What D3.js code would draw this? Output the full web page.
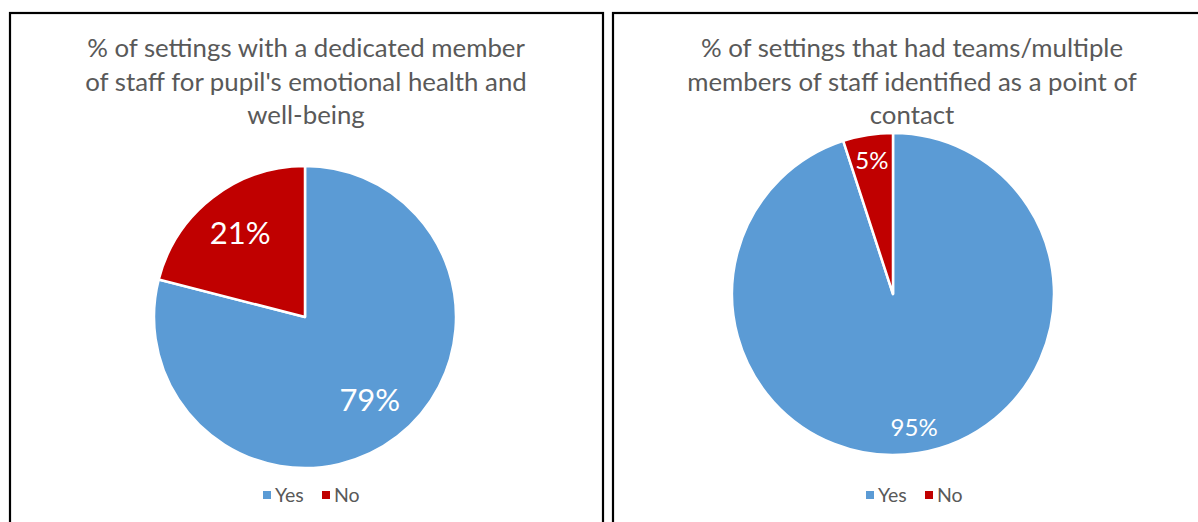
<!DOCTYPE html>
<html>
<head>
<meta charset="utf-8">
<script src="https://cdn.jsdelivr.net/npm/d3@7"></script>
<style>
  html, body { margin: 0; padding: 0; background: #fff; }
  svg { display: block; font-family: Lato, "Open Sans", sans-serif; }
</style>
</head>
<body>
<svg id="chart" width="1198" height="522"></svg>
<script>
'use strict';

// data
const categories = ['Yes', 'No'];
const leftValues = [79, 21];
const rightValues = [95, 5];
const leftTitle = ['% of settings with a dedicated member', 'of staff for pupil\'s emotional health and', 'well-being'];
const rightTitle = ['% of settings that had teams/multiple', 'members of staff identified as a point of', 'contact'];

(function () {
    const svg = d3.select('#chart');
    const color = d3.scaleOrdinal().domain(categories).range(['#5b9bd5', '#c00000']);
    const textColor = '#595959';

    const panels = [
        { x: 10, w: 593, title: leftTitle, values: leftValues, cx: 305, cy: 317, r: 151, labelR: 0.70, labelSize: 31, tx: 306, lx: 263 },
        { x: 613, w: 600, title: rightTitle, values: rightValues, cx: 893, cy: 294, r: 161, labelR: 0.84, labelSize: 24, tx: 912, lx: 866 }
    ];

    const pie = d3.pie().sort(null).value(d => d);

    panels.forEach(p => {
        const g = svg.append('g');

        // panel border
        g.append('rect')
            .attr('x', p.x).attr('y', 13)
            .attr('width', p.w).attr('height', 530)
            .attr('fill', 'none')
            .attr('stroke', '#000')
            .attr('stroke-width', 2.2);

        g.selectAll('.title')
            .data(p.title)
            .enter().append('text')
            .attr('x', p.tx)
            .attr('y', (d, i) => 57 + i * 33.5)
            .attr('text-anchor', 'middle')
            .attr('fill', textColor)
            .style('font-size', '25.8px')
            .text(d => d);

        const arcs = pie(p.values);
        const arc = d3.arc().innerRadius(0).outerRadius(p.r);
        const labelArc = d3.arc().innerRadius(p.r * p.labelR).outerRadius(p.r * p.labelR);

        const inner = g.append('g')
            .attr('transform', 'translate(' + p.cx + ',' + p.cy + ')');

        inner.selectAll('path')
            .data(arcs)
            .enter().append('path')
            .attr('d', arc)
            .attr('fill', (d, i) => color(categories[i]))
            .attr('stroke', '#fff')
            .attr('stroke-width', 2.5)
            .attr('stroke-linejoin', 'round');

        inner.selectAll('.lbl')
            .data(arcs)
            .enter().append('text')
            .attr('transform', d => 'translate(' + labelArc.centroid(d) + ')')
            .attr('dy', '0.35em')
            .attr('text-anchor', 'middle')
            .attr('fill', '#fff')
            .style('font-size', p.labelSize + 'px')
            .text(d => d.value + '%');

        // legend
        const leg = g.append('g').attr('transform', 'translate(' + p.lx + ',495)');
        const offsets = [0, 59];
        categories.forEach((c, i) => {
            leg.append('rect')
                .attr('x', offsets[i]).attr('y', -4)
                .attr('width', 8).attr('height', 8)
                .attr('fill', color(c));
            leg.append('text')
                .attr('x', offsets[i] + 12)
                .attr('y', 0)
                .attr('dy', '0.35em')
                .attr('fill', textColor)
                .style('font-size', '19.5px')
                .text(c);
        });
    });
})();
</script>
</body>
</html>
